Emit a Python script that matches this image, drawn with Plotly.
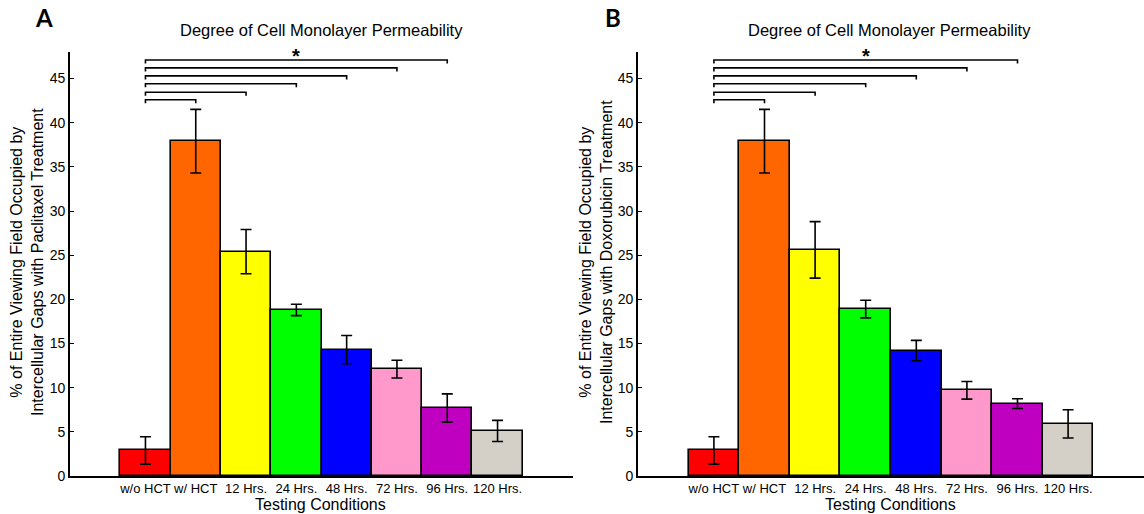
import plotly.graph_objects as go

# Testing conditions (x categories)
categories = ["w/o HCT", "w/ HCT", "12 Hrs.", "24 Hrs.", "48 Hrs.", "72 Hrs.", "96 Hrs.", "120 Hrs."]
positions = [1, 2, 3, 4, 5, 6, 7, 8]

# % of viewing field occupied by intercellular gaps (mean, error)
paclitaxel_mean = [2.9, 37.9, 25.4, 18.8, 14.3, 12.1, 7.7, 5.1]
paclitaxel_err = [1.55, 3.6, 2.5, 0.65, 1.6, 1.0, 1.6, 1.2]
doxorubicin_mean = [2.9, 37.9, 25.6, 18.9, 14.2, 9.7, 8.2, 5.9]
doxorubicin_err = [1.55, 3.6, 3.2, 1.0, 1.15, 1.0, 0.55, 1.6]

bar_colors = ["#FF0000", "#FF6600", "#FFFF00", "#00FF00", "#0000FF", "#FF99CC", "#C000C0", "#D4D0C8"]

# Significance brackets: control (index 0) vs each listed condition
sig_targets = [1, 2, 3, 4, 5, 6]
sig_levels = [42.6, 43.45, 44.4, 45.3, 46.2, 47.1]
y_ticks = [0, 5, 10, 15, 20, 25, 30, 35, 40, 45]

FONT = "Liberation Sans, Arial, sans-serif"
W, H = 1144, 514

fig = go.Figure()

panels = [
    dict(mean=paclitaxel_mean, err=paclitaxel_err, xa="x", ya="y",
         ylabel="% of Entire Viewing Field Occupied by<br>Intercellular Gaps with Paclitaxel Treatment",
         letter="A", letter_x=44, ylab_x=27, title_x=321, xlab_x=320),
    dict(mean=doxorubicin_mean, err=doxorubicin_err, xa="x2", ya="y2",
         ylabel="% of Entire Viewing Field Occupied by<br>Intercellular Gaps with Doxorubicin Treatment",
         letter="B", letter_x=613, ylab_x=596, title_x=889, xlab_x=890),
]

for p in panels:
    fig.add_trace(go.Bar(
        x=positions, y=p["mean"], width=1.0,
        marker=dict(color=bar_colors, line=dict(color="black", width=1.6)),
        error_y=dict(type="data", array=p["err"], visible=True,
                     color="black", thickness=1.6, width=5.5),
        xaxis=p["xa"], yaxis=p["ya"], showlegend=False,
    ))

    # significance brackets
    x0 = positions[0]
    drop = 0.4
    for tgt, lvl in zip(sig_targets, sig_levels):
        x1 = positions[tgt]
        fig.add_shape(type="path",
                      path=f"M {x0},{lvl - drop} L {x0},{lvl} L {x1},{lvl} L {x1},{lvl - drop}",
                      xref=p["xa"], yref=p["ya"],
                      line=dict(color="black", width=1.6))
    top_mid = (positions[0] + positions[sig_targets[-1]]) / 2
    fig.add_annotation(x=top_mid, y=sig_levels[-1] + 0.4, xref=p["xa"], yref=p["ya"],
                       text="<b>*</b>", showarrow=False, yanchor="middle",
                       font=dict(family=FONT, size=20, color="black"))

    # panel letter, title, axis titles
    fig.add_annotation(x=p["letter_x"] / W, y=1 - 18 / H, xref="paper", yref="paper",
                       text=f"<b>{p['letter']}</b>", showarrow=False,
                       xanchor="center", yanchor="middle",
                       font=dict(family="Lato, Open Sans, sans-serif", size=24, color="black"))
    fig.add_annotation(x=p["title_x"] / W, y=1 - 30 / H, xref="paper", yref="paper",
                       text="Degree of Cell Monolayer Permeability", showarrow=False,
                       xanchor="center", yanchor="middle",
                       font=dict(family=FONT, size=16.5, color="black"))
    fig.add_annotation(x=p["xlab_x"] / W, y=1 - 504 / H, xref="paper", yref="paper",
                       text="Testing Conditions", showarrow=False,
                       xanchor="center", yanchor="middle",
                       font=dict(family=FONT, size=16, color="black"))
    fig.add_annotation(x=p["ylab_x"] / W, y=1 - 262 / H, xref="paper", yref="paper",
                       text=p["ylabel"], showarrow=False, textangle=-90,
                       xanchor="center", yanchor="middle", align="center",
                       font=dict(family=FONT, size=16, color="black"))

axis_common_x = dict(range=[-0.5, 9.5], tickvals=positions, ticktext=categories,
                     tickangle=0, automargin=False,
                     showline=True, linecolor="black", linewidth=1.6, ticks="",
                     showgrid=False, zeroline=False,
                     tickfont=dict(family=FONT, size=13, color="black"))
axis_common_y = dict(range=[0, 48], tickvals=y_ticks, automargin=False,
                     showline=True, linecolor="black", linewidth=1.6,
                     ticks="inside", ticklen=4, tickcolor="black", tickwidth=1,
                     showgrid=False, zeroline=False,
                     tickfont=dict(family=FONT, size=14, color="black"))

y_dom = [38 / H, 462 / H]
fig.update_layout(
    width=W, height=H,
    margin=dict(l=0, r=0, t=0, b=0),
    paper_bgcolor="white", plot_bgcolor="white",
    bargap=0,
    xaxis=dict(domain=[70 / W, 573 / W], anchor="y", **axis_common_x),
    yaxis=dict(domain=y_dom, anchor="x", **axis_common_y),
    xaxis2=dict(domain=[638 / W, 1.0], anchor="y2", **axis_common_x),
    yaxis2=dict(domain=y_dom, anchor="x2", **axis_common_y),
)

fig.write_html("out.html")
